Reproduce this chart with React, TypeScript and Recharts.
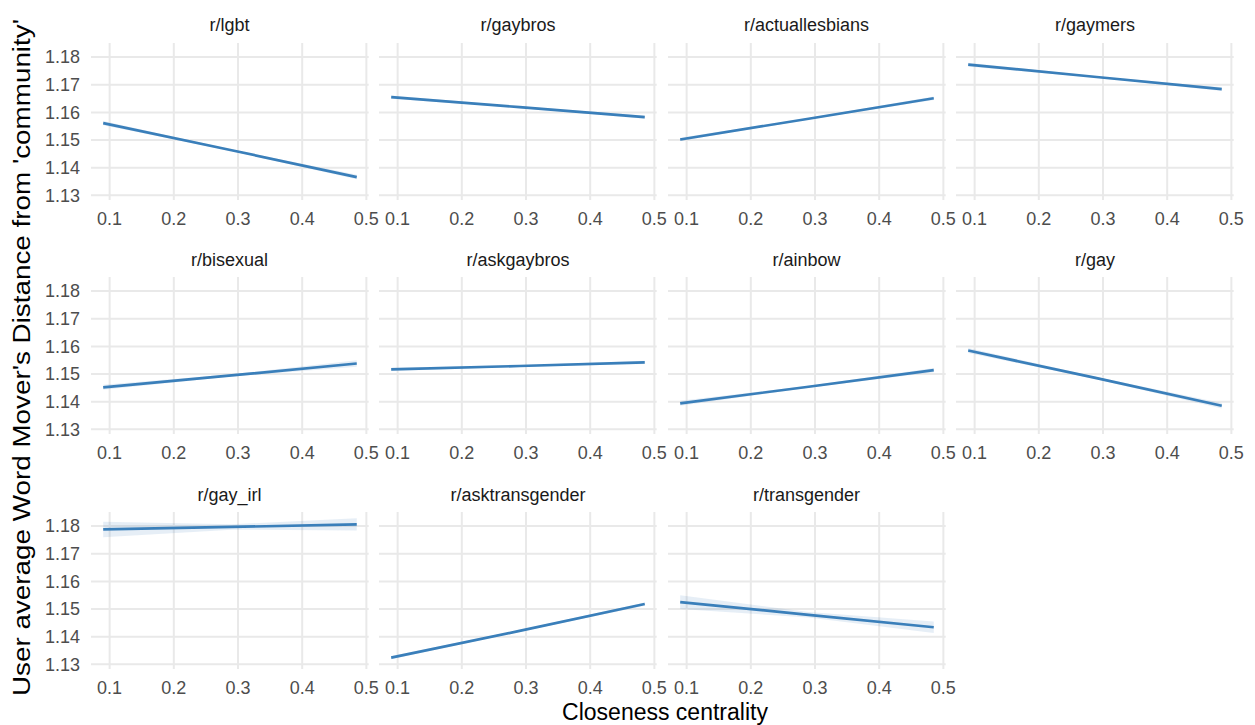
import { ComposedChart, Line, Area, XAxis, YAxis, CartesianGrid } from "recharts";

// one fitted line (lm smooth) per subreddit, read at three closeness values
const subreddits = [
  "r/lgbt",
  "r/gaybros",
  "r/actuallesbians",
  "r/gaymers",
  "r/bisexual",
  "r/askgaybros",
  "r/ainbow",
  "r/gay",
  "r/gay_irl",
  "r/asktransgender",
  "r/transgender",
];

const closeness = [0.09, 0.29, 0.485];

const fitted = [
  [1.1561, 1.1463, 1.1366],
  [1.1655, 1.1619, 1.1583],
  [1.1502, 1.1577, 1.1651],
  [1.1773, 1.1728, 1.1684],
  [1.1452, 1.1495, 1.1538],
  [1.1517, 1.1529, 1.1542],
  [1.1394, 1.1454, 1.1514],
  [1.1585, 1.1485, 1.1385],
  [1.1788, 1.1797, 1.1806],
  [1.1324, 1.1421, 1.1518],
  [1.1525, 1.1479, 1.1434],
];

// half width of the confidence ribbon at the same points
const bandHalf = [
  [0.0008, 0.0003, 0.0008],
  [0.0006, 0.0003, 0.0006],
  [0.0006, 0.0003, 0.0006],
  [0.0007, 0.0003, 0.0007],
  [0.0009, 0.0004, 0.0012],
  [0.0006, 0.0003, 0.0006],
  [0.0009, 0.0004, 0.0008],
  [0.0009, 0.0004, 0.001],
  [0.0028, 0.001, 0.0022],
  [0.0006, 0.0003, 0.0006],
  [0.0025, 0.001, 0.0021],
];

const xTicks = [0.1, 0.2, 0.3, 0.4, 0.5];
const yTicks = [1.13, 1.14, 1.15, 1.16, 1.17, 1.18];

const X_DOMAIN: [number, number] = [0.071, 0.5036];
const Y_DOMAIN: [number, number] = [1.1283, 1.1851];

const PLOT_W = 277.7;
const PLOT_H = 157;
const COL_STEP = 288.5;
const ROW_STEP = 234.7;
const PLOT_X0 = 90.7;
const PLOT_Y0 = 42.7;
const Y_AXIS_W = 60;
const TOP_PAD = 5;
const RIGHT_PAD = 16;
const X_AXIS_H = 40;

const FONT = "'Liberation Sans', Arial, Helvetica, sans-serif";
const BLUE = "#3a7fba";

// grid only at the tick values, not at the panel edges
const gridX = ({ offset }: any) =>
  xTicks.map(
    (t) => offset.left + ((t - X_DOMAIN[0]) / (X_DOMAIN[1] - X_DOMAIN[0])) * offset.width
  );
const gridY = ({ offset }: any) =>
  yTicks.map(
    (t) => offset.top + ((Y_DOMAIN[1] - t) / (Y_DOMAIN[1] - Y_DOMAIN[0])) * offset.height
  );

function Panel({ idx }: { idx: number }) {
  const col = idx % 4;
  const row = Math.floor(idx / 4);
  const data = closeness.map((x, i) => ({
    x,
    fit: fitted[idx][i],
    band: [fitted[idx][i] - bandHalf[idx][i], fitted[idx][i] + bandHalf[idx][i]],
  }));
  const tickStyle = { fill: "#4d4d4d", fontSize: 18, fontFamily: FONT };

  return (
    <div
      style={{
        position: "absolute",
        left: PLOT_X0 + col * COL_STEP - Y_AXIS_W,
        top: PLOT_Y0 + row * ROW_STEP - TOP_PAD,
      }}
    >
      <ComposedChart
        width={Y_AXIS_W + PLOT_W + RIGHT_PAD}
        height={TOP_PAD + PLOT_H + X_AXIS_H}
        data={data}
        margin={{ top: TOP_PAD, right: RIGHT_PAD, bottom: 0, left: 0 }}
      >
        <CartesianGrid
          stroke="#e9e9e9"
          strokeWidth={2}
          verticalCoordinatesGenerator={gridX}
          horizontalCoordinatesGenerator={gridY}
        />
        <XAxis
          type="number"
          dataKey="x"
          domain={X_DOMAIN}
          ticks={xTicks}
          allowDataOverflow
          interval={0}
          axisLine={false}
          tickLine={false}
          tickMargin={6}
          height={X_AXIS_H}
          tick={tickStyle}
          tickFormatter={(v: number) => v.toFixed(1)}
        />
        <YAxis
          type="number"
          domain={Y_DOMAIN}
          ticks={yTicks}
          allowDataOverflow
          interval={0}
          width={Y_AXIS_W}
          axisLine={false}
          tickLine={false}
          tickMargin={5}
          tick={col === 0 ? tickStyle : false}
          tickFormatter={(v: number) => v.toFixed(2)}
        />
        <Area
          type="linear"
          dataKey="band"
          stroke="none"
          fill={BLUE}
          fillOpacity={0.13}
          isAnimationActive={false}
        />
        <Line
          type="linear"
          dataKey="fit"
          stroke={BLUE}
          strokeWidth={2.7}
          dot={false}
          isAnimationActive={false}
        />
      </ComposedChart>
    </div>
  );
}

export default function App() {
  return (
    <div
      style={{
        position: "absolute",
        left: 0,
        top: 0,
        width: 1255,
        height: 725,
        background: "#fff",
        fontFamily: FONT,
      }}
    >
      {subreddits.map((name, i) => (
        <Panel key={name} idx={i} />
      ))}
      <svg
        width={1255}
        height={725}
        style={{ position: "absolute", left: 0, top: 0, pointerEvents: "none" }}
      >
        {subreddits.map((name, i) => (
          <text
            key={name}
            x={PLOT_X0 + (i % 4) * COL_STEP + PLOT_W / 2}
            y={PLOT_Y0 + Math.floor(i / 4) * ROW_STEP - 11.5}
            textAnchor="middle"
            fontSize={18}
            fill="#1a1a1a"
            fontFamily={FONT}
          >
            {name}
          </text>
        ))}
        <text
          x={665}
          y={720}
          textAnchor="middle"
          fontSize={23}
          fill="#000"
          fontFamily={FONT}
        >
          Closeness centrality
        </text>
        <text
          x={0}
          y={0}
          transform="translate(30 357.5) rotate(-90)"
          textAnchor="middle"
          fontSize={23}
          fill="#000"
          fontFamily={FONT}
          textLength={677}
          lengthAdjust="spacingAndGlyphs"
        >
          User average Word Mover's Distance from 'community'
        </text>
      </svg>
    </div>
  );
}
